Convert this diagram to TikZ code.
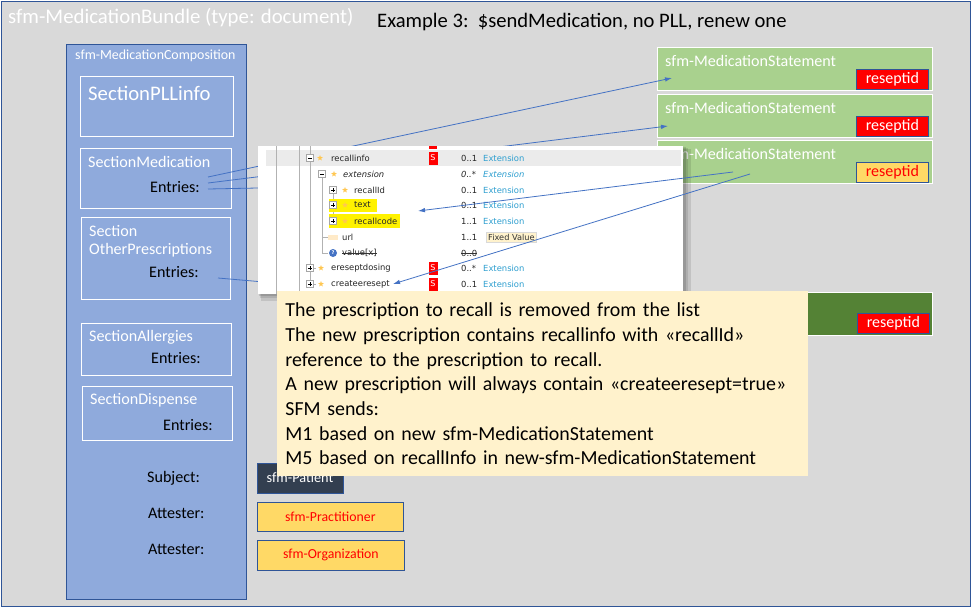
\documentclass[tikz,border=0pt]{standalone}
\usepackage{fontspec}
\setmainfont{Carlito}
\newfontfamily\uifont{DejaVu Sans}
\usetikzlibrary{arrows.meta,shapes.geometric}
\definecolor{bgc}{HTML}{D9D9D9}
\definecolor{framec}{HTML}{2F5597}
\definecolor{compc}{HTML}{8FAADC}
\definecolor{msc}{HTML}{A9D18E}
\definecolor{msdark}{HTML}{548235}
\definecolor{yelc}{HTML}{FFD966}
\definecolor{notec}{HTML}{FFF2CC}
\definecolor{arrc}{HTML}{4472C4}
\definecolor{patc}{HTML}{333F50}
\definecolor{extc}{HTML}{2E9FD0}
\newcommand{\tmbox}[2]{\draw[gray!70,fill=white,line width=0.5pt] (#1-3.5,#2-3.5) rectangle (#1+3.5,#2+3.5); \draw[black,line width=0.5pt] (#1-2,#2) -- (#1+2,#2);}
\newcommand{\tpbox}[2]{\tmbox{#1}{#2}\draw[black,line width=0.5pt] (#1,#2-2) -- (#1,#2+2);}
\newcommand{\tstar}[2]{\node[star,star points=5,star point ratio=2.3,fill=yelc!80!orange,inner sep=0,minimum size=6] at (#1,#2) {};}
\begin{document}
\begin{tikzpicture}[x=1pt,y=-1pt,
  box/.style={draw,anchor=north west,inner sep=0,line width=0.8pt},
  wl/.style={anchor=west,inner sep=0,text=white},
  bl/.style={anchor=west,inner sep=0,text=black},
  secf/.style={font=\fontsize{16.1}{19}\selectfont},
  secbox/.style={box,draw=white,line width=1pt},
  msbox/.style={box,draw=white,fill=msc,line width=1pt,minimum width=275,minimum height=43},
  rid/.style={box,draw=framec,minimum width=72,minimum height=20,font=\fontsize{16}{18}\selectfont},
  arr/.style={draw=arrc,line width=0.8pt,-{Latex[length=7pt,width=4.5pt]}},
  ln/.style={draw=arrc,line width=0.8pt},
  tt/.style={anchor=west,inner sep=0,font=\uifont\fontsize{8.4}{10}\selectfont,text=black!85},
  ext/.style={tt,text=extc},
  sbox/.style={fill=red,text=white,inner sep=0,minimum width=9,minimum height=13,font=\uifont\fontsize{8}{9}\selectfont}
]
\useasboundingbox (0,0) rectangle (973,610);
\fill[white] (0,0) rectangle (973,610);
\node[box,fill=bgc,draw=framec,minimum width=969,minimum height=605] (bundle) at (1,1) {};
\node[wl,font=\fontsize{20.8}{24}\selectfont,text=white] (btitle) at (8,18) {sfm-MedicationBundle (type: document)};
\node[bl,font=\fontsize{20.6}{24}\selectfont] (ex) at (377,22) {Example 3:\ \ \$sendMedication, no PLL, renew one};

% composition
\node[box,fill=compc,draw=framec,minimum width=180,minimum height=555] (comp) at (66,44) {};
\node[wl,font=\fontsize{13.9}{16}\selectfont] (comptitle) at (75,56) {sfm-MedicationComposition};
\node[secbox,minimum width=153,minimum height=60] (pll) at (80,76) {};
\node[wl,font=\fontsize{20.7}{24}\selectfont] (pllt) at (88,93) {SectionPLLinfo};
\node[secbox,minimum width=151,minimum height=60] (med) at (80,148) {};
\node[wl,secf] (medt) at (88,162) {SectionMedication};
\node[bl,secf] (mede) at (150,187) {Entries:};
\node[secbox,minimum width=149,minimum height=82] (oth) at (81,217) {};
\node[wl,secf] (otht1) at (89,231) {Section};
\node[wl,secf] (otht2) at (89,250) {OtherPrescriptions};
\node[bl,secf] (othe) at (149,272) {Entries:};
\node[secbox,minimum width=150,minimum height=52] (all) at (81,323) {};
\node[wl,secf] (allt) at (89,337) {SectionAllergies};
\node[bl,secf] (alle) at (151,358) {Entries:};
\node[secbox,minimum width=150,minimum height=54] (dis) at (82,386) {};
\node[wl,secf] (dist) at (90,400) {SectionDispense};
\node[bl,secf] (dise) at (163,425) {Entries:};
\node[bl,secf] (subj) at (147,478) {Subject:};
\node[bl,secf] (att1) at (148,513) {Attester:};
\node[bl,secf] (att2) at (148,549) {Attester:};

% referenced resources
\node[box,fill=patc,draw=framec,minimum width=86,minimum height=30] (pat) at (257,463) {};
\node[text=white,inner sep=0,font=\fontsize{14.3}{16}\selectfont] (patt) at (300,478) {sfm-Patient};
\node[box,fill=yelc,draw=framec,minimum width=146,minimum height=29,text=red,font=\fontsize{13.8}{16}\selectfont] (prac) at (257,502) {sfm-Practitioner};
\node[box,fill=yelc,draw=framec,minimum width=147,minimum height=30,text=red,font=\fontsize{13.8}{16}\selectfont] (org) at (257,540) {sfm-Organization};

% medication statements
\node[msbox] (ms1) at (657,47) {};
\node[wl,secf] (ms1t) at (665,61) {sfm-MedicationStatement};
\node[rid,fill=red,text=white] (r1) at (856,69) {reseptid};
\node[msbox] (ms2) at (657,94) {};
\node[wl,secf] (ms2t) at (665,108) {sfm-MedicationStatement};
\node[rid,fill=red,text=white] (r2) at (856,116) {reseptid};
\node[msbox] (ms3) at (657,140) {};
\node[wl,secf] (ms3t) at (665,154) {sfm-MedicationStatement};
\node[rid,fill=yelc,text=red] (r3) at (856,162) {reseptid};
\node[msbox,fill=msdark] (ms4) at (657,292) {};
\node[rid,fill=red,text=white] (r4) at (857,313) {reseptid};

% arrows from entries
\coordinate (e1) at (208,177);
\coordinate (e2) at (208,183);
\coordinate (e3) at (208,189);
\coordinate (e4) at (218,278);
\coordinate (t1) at (672,78);
\coordinate (t2) at (668,126);
\coordinate (t3) at (670,175);
\coordinate (t4) at (700,320);
\draw[arr] (e1) -- (t1);
\draw[arr] (e2) -- (t2);
\draw[ln] (e3) -- (258,188) -- (t3);
\draw[ln] (e4) -- (t4);

% screenshot panel
\fill[black,opacity=0.10] (261,149) rectangle (691,301);
\fill[black,opacity=0.10] (260,148) rectangle (688,298);
\fill[black,opacity=0.12] (259,147) rectangle (686,296);
\node[box,fill=white,draw=none,minimum width=425,minimum height=148] (panel) at (258,146) {};
\fill[black!8] (266,150) rectangle (681,166);
\fill[red] (429,146) rectangle (437,148.5);
\draw[gray!60,line width=0.6pt] (276,146) -- (276,294);
\draw[gray!60,line width=0.6pt] (299,146) -- (299,294);
\draw[gray!60,line width=0.5pt] (310,146) -- (310,284) (310,268) -- (316,268) (310,284) -- (316,284);
\draw[gray!60,line width=0.5pt] (322,174) -- (322,253) (322,237) -- (328,237) (322,253) -- (328,253);
\draw[gray!60,line width=0.5pt] (333,190) -- (333,221);
\fill[yellow] (329,199) rectangle (377,212);
\fill[yellow] (329,214) rectangle (400,228);
% rows
\tmbox{310}{158}\tstar{320}{158}
\node[tt] (n1) at (331,158) {recallinfo};
\node[sbox] (s1) at (433,158) {S};
\node[tt] (c1) at (461,158) {0..1};
\node[ext] (x1) at (483,158) {Extension};
\tmbox{322}{174}\tstar{334}{174}
\node[tt,font=\uifont\itshape\fontsize{8.4}{10}\selectfont] (n2) at (343,174) {extension};
\node[tt,font=\uifont\itshape\fontsize{8.4}{10}\selectfont] (c2) at (461,174) {0..*};
\node[ext,font=\uifont\itshape\fontsize{8.4}{10}\selectfont] (x2) at (483,174) {Extension};
\tpbox{333}{190}\tstar{345}{190}
\node[tt] (n3) at (354,190) {recallId};
\node[tt] (c3) at (461,190) {0..1};
\node[ext] (x3) at (483,190) {Extension};
\tpbox{333}{205}\tstar{345}{205}
\node[tt] (n4) at (354,205) {text};
\node[tt] (c4) at (461,205) {0..1};
\node[ext] (x4) at (483,205) {Extension};
\tpbox{333}{221}\tstar{345}{221}
\node[tt] (n5) at (354,221) {recallcode};
\node[tt] (c5) at (461,221) {1..1};
\node[ext] (x5) at (483,221) {Extension};
\fill[notec!80!orange!60] (328,234.5) rectangle (338,239.5);
\node[tt] (n6) at (342,237) {url};
\node[tt] (c6) at (461,237) {1..1};
\node[fill=notec,draw=black!15,inner sep=2,anchor=west,font=\uifont\fontsize{8.2}{10}\selectfont,text=black!80] (fv) at (486,237) {Fixed Value};
\fill[arrc] (333,253) circle (4);
\node[text=white,inner sep=0,font=\uifont\bfseries\fontsize{5}{6}\selectfont] at (333,253) {?};
\node[tt] (n7) at (342,253) {value[x]};
\draw[black!80,line width=0.5pt] (n7.west) -- (n7.east);
\node[tt] (c7) at (461,253) {0..0};
\draw[black!80,line width=0.5pt] (c7.west) -- (c7.east);
\tpbox{310}{268}\tstar{321}{268}
\node[tt] (n8) at (331,268) {ereseptdosing};
\node[sbox] (s8) at (433,268) {S};
\node[tt] (c8) at (461,268) {0..*};
\node[ext] (x8) at (483,268) {Extension};
\tpbox{310}{284}\tstar{321}{284}
\node[tt] (n9) at (331,284) {createeresept};
\node[sbox] (s9) at (433,284) {S};
\node[tt] (c9) at (461,284) {0..1};
\node[ext] (x9) at (483,284) {Extension};

% arrows from MS3 into the panel
\coordinate (m3a) at (733,172);
\coordinate (m3b) at (750,174);
\coordinate (ta) at (418,211);
\coordinate (tb) at (393,284);
\draw[arr] (m3a) -- (ta);
\draw[arr] (m3b) -- (tb);

% note
\node[box,draw=none,fill=notec,minimum width=531,minimum height=185,text width=515,align=left,inner xsep=8,font=\fontsize{19.9}{24.7}\selectfont] (note) at (277,291) {The prescription to recall is removed from the list\\
The new prescription contains recallinfo with «recallId»\\
reference to the prescription to recall.\\
A new prescription will always contain «createeresept=true»\\
SFM sends:\\
M1 based on new sfm-MedicationStatement\\
M5 based on recallInfo in new-sfm-MedicationStatement};
\end{tikzpicture}
\end{document}
